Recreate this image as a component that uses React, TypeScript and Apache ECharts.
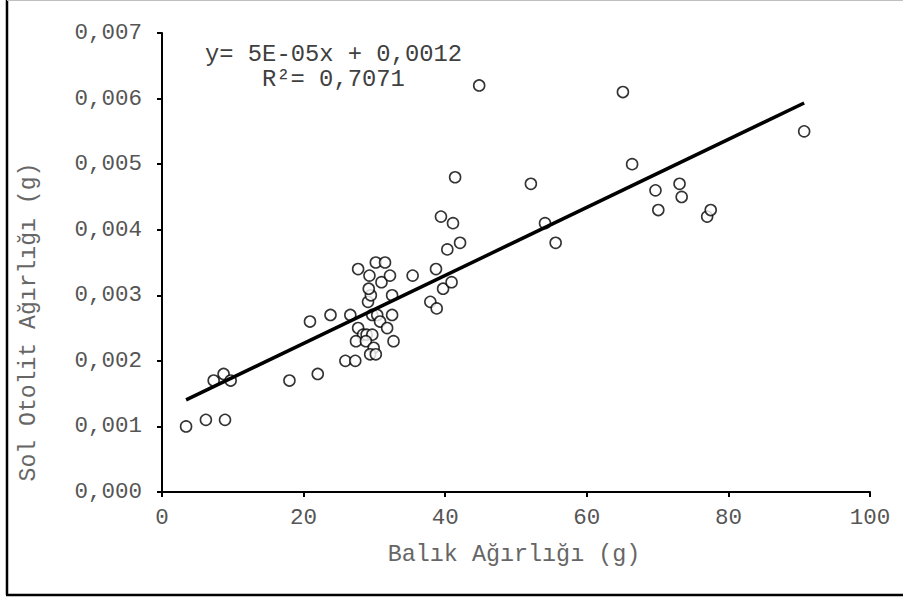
import React, { useEffect, useRef } from "react";
import * as echarts from "echarts";

// Fish weight (g) and left otolith weight (g) for each specimen
const fishWeight: number[] = [
  3.4, 6.2, 8.9, 7.3, 8.7, 9.7, 18.0, 22.0, 20.9, 23.8,
  25.9, 27.3, 26.6, 27.7, 28.4, 28.9, 29.7, 27.4, 28.8, 29.9,
  29.4, 30.2, 29.7, 30.4, 30.8, 31.8, 32.5, 32.7, 29.1, 29.5,
  32.5, 29.2, 31.0, 29.3, 32.2, 35.4, 27.7, 30.2, 31.5, 37.9,
  38.8, 38.7, 39.7, 40.9, 40.3, 42.1, 41.1, 39.4, 41.4, 44.8,
  52.1, 54.1, 55.6, 65.1, 66.4, 69.7, 70.1, 73.1, 73.4, 77.0,
  77.5, 90.7,
];
const otolithWeight: number[] = [
  0.0010, 0.0011, 0.0011, 0.0017, 0.0018, 0.0017, 0.0017, 0.0018, 0.0026, 0.0027,
  0.0020, 0.0020, 0.0027, 0.0025, 0.0024, 0.0024, 0.0024, 0.0023, 0.0023, 0.0022,
  0.0021, 0.0021, 0.0027, 0.0027, 0.0026, 0.0025, 0.0027, 0.0023, 0.0029, 0.0030,
  0.0030, 0.0031, 0.0032, 0.0033, 0.0033, 0.0033, 0.0034, 0.0035, 0.0035, 0.0029,
  0.0028, 0.0034, 0.0031, 0.0032, 0.0037, 0.0038, 0.0041, 0.0042, 0.0048, 0.0062,
  0.0047, 0.0041, 0.0038, 0.0061, 0.0050, 0.0046, 0.0043, 0.0047, 0.0045, 0.0042,
  0.0043, 0.0055,
];

const xTicks = { min: 0, max: 100, interval: 20 };
const yTicks = { min: 0, max: 0.007, interval: 0.001 };

const equationLines: string[] = ["y= 5E-05x + 0,0012", "R²= 0,7071"];
const xTitle = "Balık Ağırlığı (g)";
const yTitle = "Sol Otolit Ağırlığı (g)";

const FONT = "'Liberation Mono', 'Courier New', monospace";

// Ordinary least-squares fit of otolith weight on fish weight
function linearFit(xs: number[], ys: number[]) {
  const n = xs.length;
  let sx = 0, sy = 0, sxx = 0, sxy = 0;
  for (let i = 0; i < n; i++) {
    sx += xs[i];
    sy += ys[i];
    sxx += xs[i] * xs[i];
    sxy += xs[i] * ys[i];
  }
  const slope = (n * sxy - sx * sy) / (n * sxx - sx * sx);
  const intercept = (sy - slope * sx) / n;
  return { slope, intercept };
}

export default function App() {
  const ref = useRef<HTMLDivElement>(null);

  useEffect(() => {
    if (!ref.current) return;
    const chart = echarts.init(ref.current, undefined, { renderer: "svg" });

    const points = fishWeight.map((x, i) => [x, otolithWeight[i]]);
    const { slope, intercept } = linearFit(fishWeight, otolithWeight);
    const x0 = Math.min(...fishWeight);
    const x1 = Math.max(...fishWeight);
    const trend = [
      [x0, intercept + slope * x0],
      [x1, intercept + slope * x1],
    ];

    const axisCommon = {
      axisLine: { show: true, onZero: false, lineStyle: { color: "#000", width: 2 } },
      axisTick: { show: true, length: 5, lineStyle: { color: "#000", width: 2 } },
      splitLine: { show: false },
    };

    chart.setOption({
      animation: false,
      backgroundColor: "#fff",
      grid: { left: 162, right: 33, top: 33, bottom: 109, containLabel: false },
      xAxis: {
        type: "value",
        ...xTicks,
        ...axisCommon,
        axisLabel: {
          color: "#555",
          fontFamily: FONT,
          fontSize: 22.5,
          margin: 14,
        },
      },
      yAxis: {
        type: "value",
        ...yTicks,
        ...axisCommon,
        axisLabel: {
          color: "#555",
          fontFamily: FONT,
          fontSize: 22.5,
          margin: 20,
          formatter: (v: number) => v.toFixed(3).replace(".", ","),
        },
      },
      series: [
        {
          type: "scatter",
          data: points,
          symbol: "circle",
          symbolSize: 11,
          itemStyle: { color: "#fff", borderColor: "#000", borderWidth: 1.6 },
          z: 3,
        },
        {
          type: "line",
          data: trend,
          symbol: "none",
          lineStyle: { color: "#000", width: 3.5 },
          z: 4,
        },
      ],
      graphic: [
        { type: "line", shape: { x1: 7, y1: 0, x2: 7, y2: 595 }, style: { stroke: "#000", lineWidth: 2.5 } },
        { type: "line", shape: { x1: 6, y1: 595, x2: 903, y2: 595 }, style: { stroke: "#000", lineWidth: 2.5 } },
        { type: "line", shape: { x1: 7, y1: 0.5, x2: 903, y2: 0.5 }, style: { stroke: "#bfbfbf", lineWidth: 1 } },
        {
          type: "text",
          x: 205,
          y: 54,
          style: { text: equationLines[0], font: `23.8px ${FONT}`, fill: "#404040", verticalAlign: "middle" },
        },
        {
          type: "text",
          x: 262,
          y: 79,
          style: { text: equationLines[1], font: `23.8px ${FONT}`, fill: "#404040", verticalAlign: "middle" },
        },
        {
          type: "text",
          x: 514,
          y: 555,
          style: { text: xTitle, font: `23.4px ${FONT}`, fill: "#666", align: "center", verticalAlign: "middle" },
        },
        {
          type: "text",
          x: 29,
          y: 322,
          rotation: Math.PI / 2,
          style: { text: yTitle, font: `23.1px ${FONT}`, fill: "#666", align: "center", verticalAlign: "middle" },
        },
      ],
    });

    return () => chart.dispose();
  }, []);

  return (
    <div
      ref={ref}
      style={{ position: "fixed", left: 0, top: 0, width: 903, height: 601, background: "#fff" }}
    />
  );
}
